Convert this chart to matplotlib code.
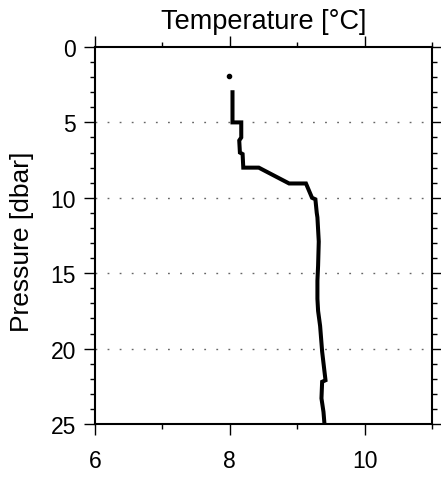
import numpy as np
import matplotlib
matplotlib.use('Agg')
import matplotlib.pyplot as plt
from matplotlib.ticker import MultipleLocator

plt.rcParams['font.family'] = ['Liberation Sans', 'DejaVu Sans']

# surface sample, drawn alone
surface_temperature = [7.99]
surface_pressure = [1.95]

# profile below 3 dbar
temperature = [8.04, 8.04, 8.17, 8.17, 8.14, 8.15, 8.19, 8.20, 8.43, 8.88,
               9.13, 9.22, 9.27, 9.29, 9.30, 9.32, 9.31, 9.30, 9.30, 9.31,
               9.34, 9.37, 9.42, 9.37, 9.36, 9.39, 9.41]
pressure = [3.0, 5.0, 5.0, 6.0, 6.2, 7.0, 7.1, 8.0, 8.0, 9.05,
            9.05, 10.0, 10.1, 11.0, 11.3, 12.9, 14.5, 15.5, 16.7, 17.5,
            18.5, 20.2, 22.1, 22.2, 23.3, 24.2, 25.3]

fig = plt.figure(figsize=(4.41, 4.81), dpi=100)
ax = fig.add_axes([95 / 441, 1 - 425 / 481, 337 / 441, 377 / 481])

for p in [5, 10, 15, 20]:
    ax.axhline(p, color='0.4', linewidth=1.0, linestyle=(0, (1.3, 7.4)),
               zorder=1)

ax.plot(temperature, pressure, color='black', linewidth=2.9,
        solid_joinstyle='miter', zorder=3)
ax.plot(surface_temperature, surface_pressure, 'o', color='black',
        markersize=3.0, zorder=3)

ax.set_xlim(6, 11)
ax.set_ylim(25, 0)

ax.xaxis.set_major_locator(MultipleLocator(2))
ax.xaxis.set_minor_locator(MultipleLocator(1))
ax.yaxis.set_major_locator(MultipleLocator(5))
ax.yaxis.set_minor_locator(MultipleLocator(1))

ax.tick_params(which='both', direction='out', top=True, right=True,
               labeltop=False, labelright=False, width=1.0,
               labelsize=16.5, color='black')
ax.tick_params(which='major', length=7.8)
ax.tick_params(which='minor', length=3.8)
ax.tick_params(axis='x', which='major', pad=10.5)
ax.tick_params(axis='y', which='major', pad=6)

for s in ax.spines.values():
    s.set_linewidth(1.5)

ax.set_title('Temperature [°C]', fontsize=19.5, pad=14)
ax.set_ylabel('Pressure [dbar]', fontsize=19)
ax.yaxis.set_label_coords(-0.18, 0.485)

fig.savefig('out.png', dpi=100, facecolor='white')
